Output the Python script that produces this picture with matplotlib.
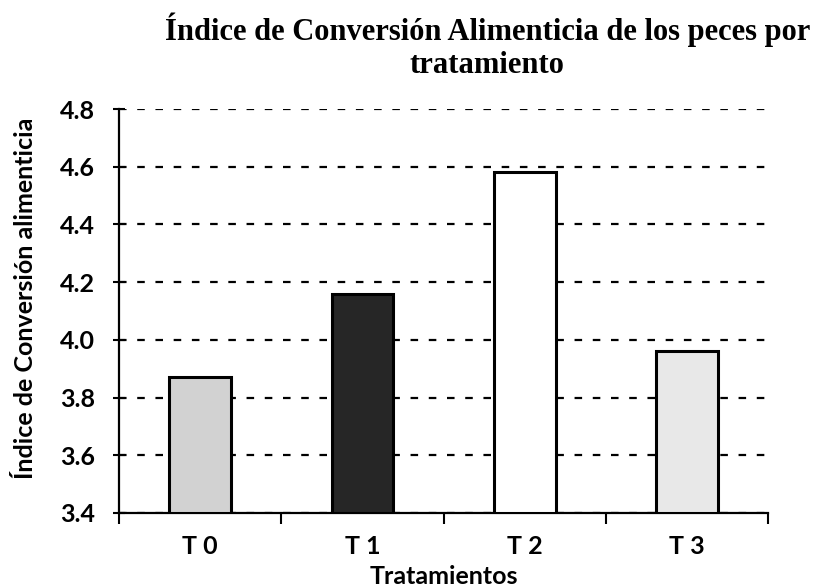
import matplotlib
matplotlib.use("Agg")
import matplotlib.pyplot as plt
import numpy as np

categories = ["T 0", "T 1", "T 2", "T 3"]
values = [3.87, 4.16, 4.58, 3.96]
colors = ["#d2d2d2", "#262626", "#ffffff", "#e8e8e8"]
yticks = [3.4, 3.6, 3.8, 4.0, 4.2, 4.4, 4.6, 4.8]
title = "Índice de Conversión Alimenticia de los peces por\ntratamiento"
xlabel = "Tratamientos"
ylabel = "Índice de Conversión alimenticia"

sans = ["Lato", "DejaVu Sans"]
serif = ["Liberation Serif", "DejaVu Serif"]

fig = plt.figure(figsize=(8.26, 5.88), dpi=100)
ax = fig.add_axes([0.144, 0.1276, 0.786, 0.687])

x = np.arange(len(categories))
ax.bar(x, [v - 3.4 for v in values], bottom=3.4, width=0.38, color=colors,
       edgecolor="black", linewidth=2.2, zorder=3)

ax.set_xlim(-0.5, 3.5)
ax.set_ylim(3.4, 4.8)
ax.set_yticks(yticks)
ax.set_yticklabels([f"{t:.1f}" for t in yticks], fontsize=18, fontweight="bold", family=sans)
ax.yaxis.grid(True, color="black", linestyle=(0, (3.4, 4.8)), linewidth=1.6, zorder=0)
ax.set_axisbelow(True)

ax.set_xticks(np.arange(-0.5, 4.0, 1.0))
ax.set_xticklabels([])
ax.set_xticks(x, minor=True)
ax.set_xticklabels(categories, minor=True, fontsize=18, fontweight="bold", family=sans)
ax.tick_params(axis="x", which="major", direction="out", length=8, width=1.5)
ax.tick_params(axis="x", which="minor", length=0, pad=16)
ax.tick_params(axis="y", direction="inout", length=9, width=1.5, pad=13)

for s in ["top", "right"]:
    ax.spines[s].set_visible(False)
for s in ["left", "bottom"]:
    ax.spines[s].set_linewidth(1.6)
    ax.spines[s].set_color("black")

ax.set_xlabel(xlabel, fontsize=18, fontweight="bold", family=sans, labelpad=5)
ax.set_ylabel(ylabel, fontsize=18, fontweight="bold", family=sans)
ax.yaxis.set_label_coords(-0.126, 0.532)

fig.text(0.59, 0.978, title, ha="center", va="top", fontsize=22, fontweight="bold",
         family=serif, linespacing=1.15)

fig.savefig("out.png", dpi=100)
